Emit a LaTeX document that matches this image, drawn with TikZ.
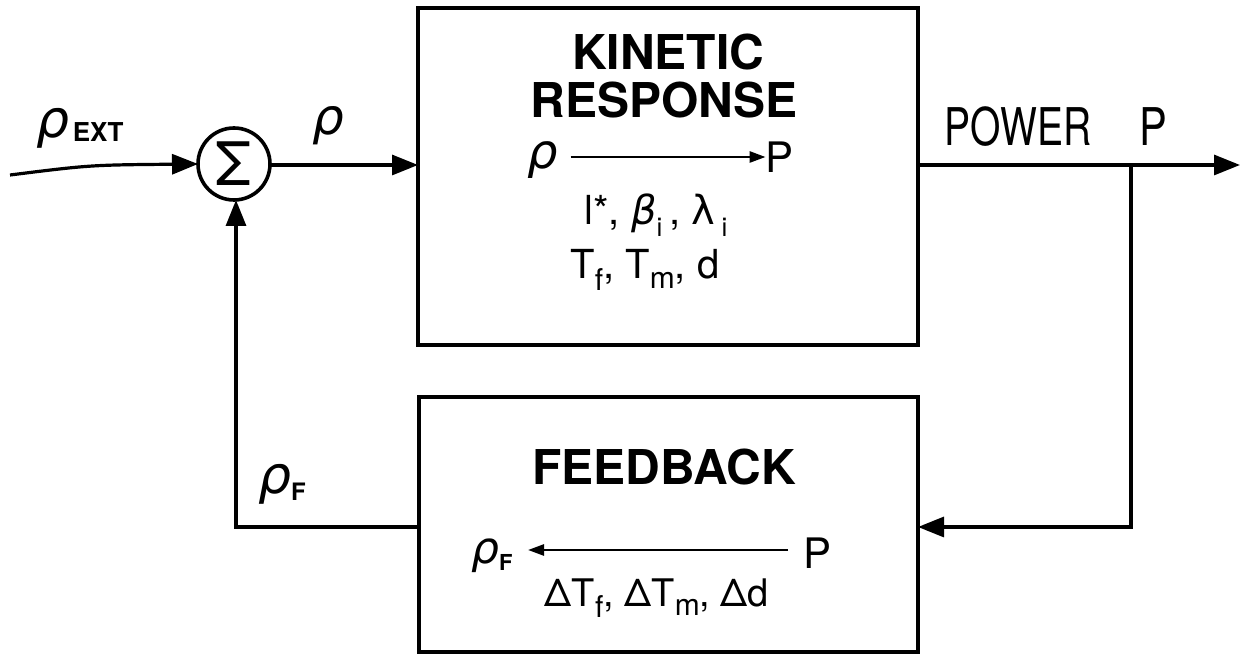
\documentclass[tikz,border=0pt]{standalone}
\usepackage{fontspec}
\setmainfont{TeX Gyre Heros}
\newfontfamily\gk{DejaVu Sans}
\usetikzlibrary{arrows.meta}
\newcommand{\fsz}[1]{\fontsize{#1}{#1}\selectfont}
\begin{document}
\begin{tikzpicture}[x=0.5pt,y=-0.5pt,
  wire/.style={line width=1.6pt},
  arr/.style={wire,-{Triangle[length=13pt,width=10pt]}},
  smallarr/.style={line width=1.3pt,-{Triangle[length=8pt,width=5.5pt]}},
  blockbox/.style={draw,line width=2pt,inner sep=0pt,outer sep=0pt},
  head/.style={font=\bfseries\fsz{24},align=center,inner sep=0pt},
  lbl/.style={inner sep=0pt,anchor=center},
]
\useasboundingbox (0,0) rectangle (1244,656);
% blocks
\node[blockbox,minimum width=250pt,minimum height=168.5pt] (kin) at (668,176.5) {};
\node[blockbox,minimum width=249.5pt,minimum height=127.5pt] (fb) at (668.5,524.5) {};
\node[circle,draw,line width=1.8pt,minimum size=36pt,inner sep=0pt,outer sep=0pt,font=\fsz{30}] (sum) at (234,164) {Σ};
% kinetic texts
\node[head] (kt1) at (668,52) {KINETIC};
\node[head] (kt2) at (664,100) {RESPONSE};
\node[lbl,font=\fsz{24}\gk\itshape] (krho) at (543,160) {ρ};
\node[lbl,font=\fsz{21}] (kP) at (780,157) {P};
\draw[smallarr] (krho.east) ++(12,-3) coordinate (ka) -- (kP.west |- ka) coordinate (kb);
\node[lbl,font=\fsz{20}] (kpar1) at (656,215) {l*, {\gk\itshape β}\raisebox{-0.3em}{\fsz{13}i}\,, {\gk λ}\,\raisebox{-0.3em}{\fsz{13}i}};
\node[lbl,font=\fsz{20}] (kpar2) at (645,270) {T\raisebox{-0.3em}{\fsz{15}f}, T\raisebox{-0.25em}{\fsz{15}m}, d};
% feedback texts
\node[head] (ft) at (664,467) {FEEDBACK};
\node[lbl] (frho) at (492,556) {{\fsz{22}\gk\itshape ρ}\raisebox{-0.35em}{\fsz{11}\bfseries F}};
\node[lbl,font=\fsz{21}] (fP) at (818,553) {P};
\draw[smallarr] (788,550) coordinate (fa) -- (528,550) coordinate (fb2);
\node[lbl,font=\fsz{19}] (fpar) at (657,598) {ΔT\raisebox{-0.3em}{\fsz{15}f}, ΔT\raisebox{-0.25em}{\fsz{15}m}, Δd};
% outside labels
\node[lbl] (lext) at (80,128) {{\fsz{26}\gk\itshape ρ}\,\raisebox{-0.2em}{\fsz{13}\bfseries EXT}};
\node[lbl,font=\fsz{25}\gk\itshape] (lrho) at (328,126) {ρ};
\node[lbl,font=\fsz{26}] (lpow) at (1018,127) {\scalebox{0.75}[1]{POWER}};
\node[lbl,font=\fsz{26}] (lP) at (1153,127) {\scalebox{0.8}[1]{P}};
\node[lbl] (lrf) at (282,484) {{\fsz{26}\gk\itshape ρ}\raisebox{-0.35em}{\fsz{12}\bfseries F}};
% connectors
\coordinate (in) at (10,175);
\coordinate (out) at (1240,165);
\coordinate (br) at (1131,165);
\draw[arr] (in) .. controls (90,165) .. (sum.west);
\draw[arr] (sum.east |- 0,165) -- (kin.west |- 0,165);
\draw[arr] (kin.east |- out) -- (out);
\draw[arr] (br) |- (fb.east |- 0,527);
\draw[arr] (fb.west |- 0,527) -| (sum.south -| 236,0);
\end{tikzpicture}
\end{document}
